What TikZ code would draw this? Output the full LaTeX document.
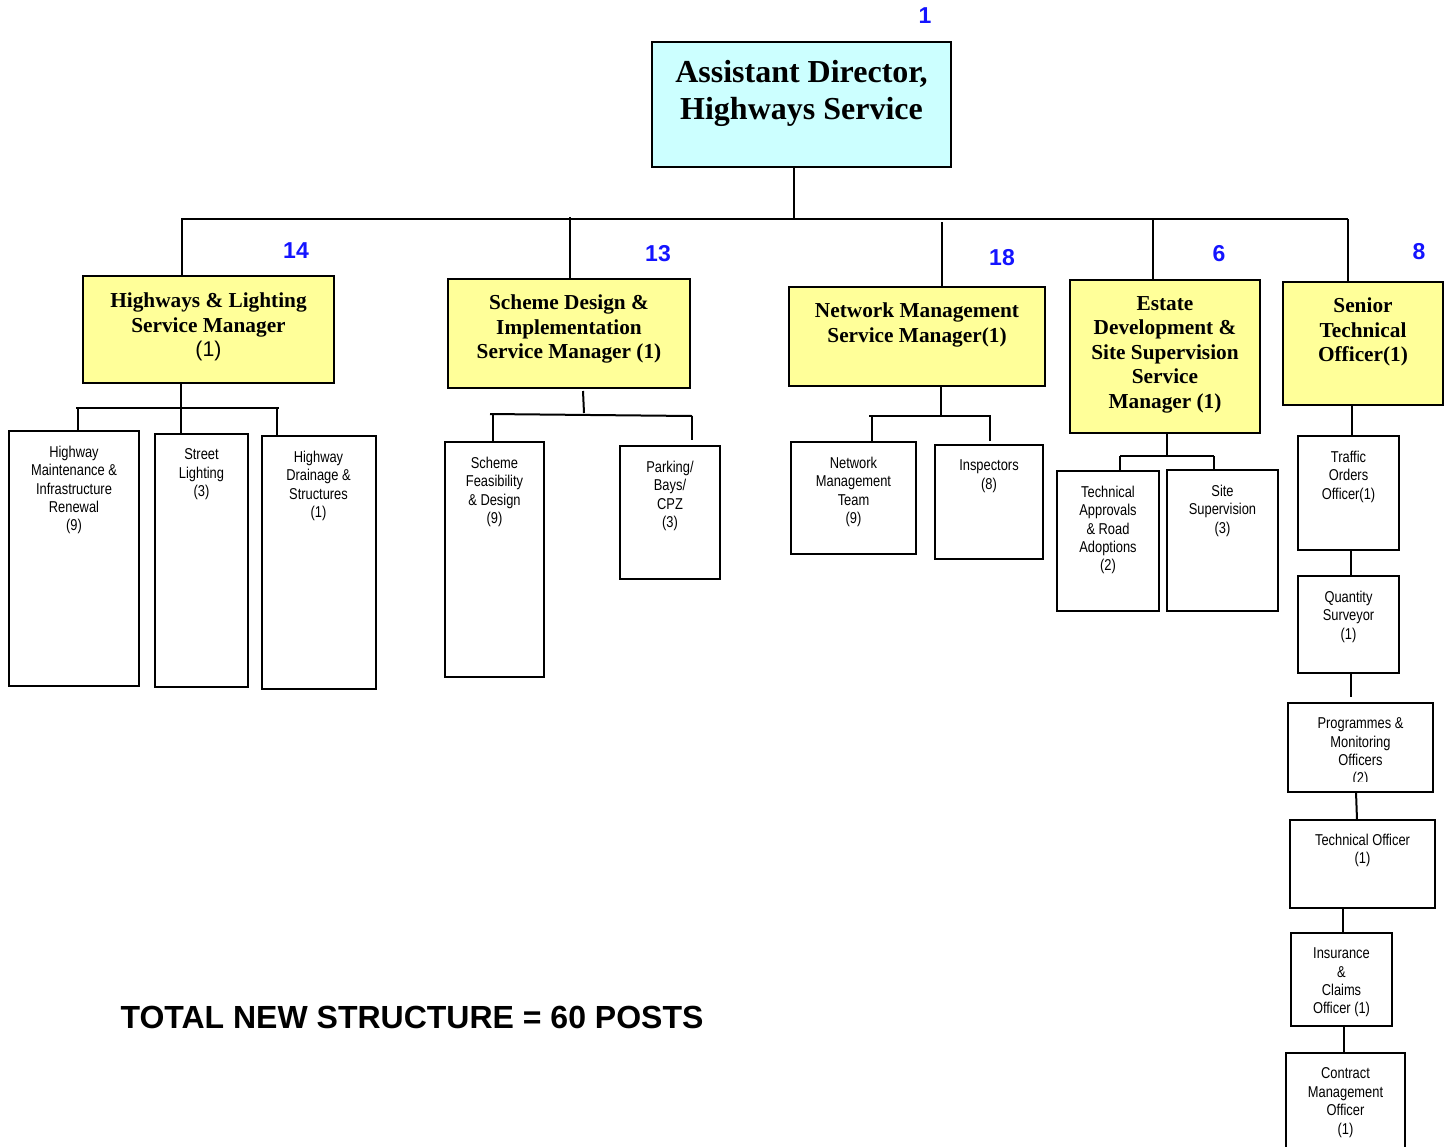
\documentclass[tikz,border=0pt]{standalone}
\usepackage{fontspec}
\setmainfont{Liberation Serif}
\newfontfamily\narrowfont[FakeStretch=0.82]{Liberation Sans}
\newfontfamily\arialfont{Liberation Sans}
\definecolor{cyanfill}{HTML}{CCFFFF}
\definecolor{yellowfill}{HTML}{FFFF99}
\definecolor{numblue}{HTML}{1414FF}
\tikzset{
  conn/.style={line width=2pt},
  boxbase/.style={draw, line width=2pt, inner sep=0pt, outer sep=0pt},
  cbox/.style={boxbase, fill=cyanfill},
  ybox/.style={boxbase, fill=yellowfill},
  wbox/.style={boxbase, fill=white},
  toptext/.style={anchor=north, inner sep=0pt, align=center, execute at begin node={\strut},
    font=\bfseries\fontsize{32}{37}\selectfont},
  sertext/.style={anchor=north, inner sep=0pt, align=center, execute at begin node={\strut},
    font=\bfseries\fontsize{21.3}{24.5}\selectfont},
  santext/.style={anchor=north, inner sep=0pt, align=center, execute at begin node={\strut},
    font=\narrowfont\fontsize{15.7}{18.4}\selectfont},
  bnum/.style={inner sep=0pt, text=numblue, font=\arialfont\bfseries\fontsize{23}{27}\selectfont},
}
\begin{document}
\begin{tikzpicture}[x=1pt,y=-1pt]
\useasboundingbox (0,0) rectangle (1450,1146);

% ---------- junction coordinates ----------
\coordinate (barL) at (181,219);
\coordinate (barR) at (1348,219);
\coordinate (adj) at (794,219);
\coordinate (d1) at (182,219);
\coordinate (d2) at (570,217);
\coordinate (d3) at (942,222);
\coordinate (d4) at (1153,219);
\coordinate (d5) at (1348,219);

% ---------- boxes ----------
\node[cbox, minimum width=299, minimum height=125] (ad) at (801.5,104.5) {};
\node[ybox, minimum width=251, minimum height=107] (hl) at (208.5,329.5) {};
\node[ybox, minimum width=242, minimum height=109] (sd) at (569,333.5) {};
\node[ybox, minimum width=256, minimum height=99] (nm) at (917,336.5) {};
\node[ybox, minimum width=190, minimum height=153] (ed) at (1165,356.5) {};
\node[ybox, minimum width=160, minimum height=123] (st) at (1363,343.5) {};

\node[wbox, minimum width=130, minimum height=255] (hm) at (74,558.5) {};
\node[wbox, minimum width=93, minimum height=253] (sl) at (201.5,560.5) {};
\node[wbox, minimum width=114, minimum height=253] (hd) at (319,562.5) {};
\node[wbox, minimum width=99, minimum height=235] (sf) at (494.5,559.5) {};
\node[wbox, minimum width=100, minimum height=133] (pb) at (670,512.5) {};
\node[wbox, minimum width=125, minimum height=112] (nmt) at (853.5,498) {};
\node[wbox, minimum width=108, minimum height=114] (ins) at (989,502) {};
\node[wbox, minimum width=102, minimum height=140] (ta) at (1108,541) {};
\node[wbox, minimum width=111, minimum height=141] (ss) at (1222.5,540.5) {};
\node[wbox, minimum width=101, minimum height=114] (tro) at (1348.5,493) {};
\node[wbox, minimum width=101, minimum height=97] (qs) at (1348.5,624.5) {};
\node[wbox, minimum width=145, minimum height=89] (pm) at (1360.5,747.5) {};
\node[wbox, minimum width=145, minimum height=88] (to) at (1362.5,864) {};
\node[wbox, minimum width=101, minimum height=93] (ic) at (1341.5,979.5) {};
\node[wbox, minimum width=119, minimum height=107] (cm) at (1345.5,1106.5) {};

% ---------- connectors ----------
\draw[conn] (barL) -- (barR);
\draw[conn] (adj |- ad.south) -- (adj);
\draw[conn] (d1) -- (d1 |- hl.north);
\draw[conn] (d2) -- (d2 |- sd.north);
\draw[conn] (d3) -- (d3 |- nm.north);
\draw[conn] (d4) -- (d4 |- ed.north);
\draw[conn] (d5) -- (d5 |- st.north);

% Highways & Lighting
\coordinate (hlv) at (181,408);
\coordinate (hlbL) at (76,408);
\coordinate (hlbR) at (279,408);
\coordinate (hmj) at (78,408);
\coordinate (hdj) at (277,408);
\draw[conn] (hlv |- hl.south) -- (hlv |- sl.north);
\draw[conn] (hlbL) -- (hlbR);
\draw[conn] (hmj) -- (hmj |- hm.north);
\draw[conn] (hdj) -- (hdj |- hd.north);

% Scheme Design
\coordinate (sdv1) at (583,391);
\coordinate (sdv2) at (584,413);
\coordinate (sdbL) at (490,414);
\coordinate (sdbR) at (692,416);
\coordinate (sfj) at (493,414);
\coordinate (pbj) at (692,416);
\draw[conn] (sdv1) -- (sdv2);
\draw[conn] (sdbL) -- (sdbR);
\draw[conn] (sfj) -- (sfj |- sf.north);
\draw[conn] (pbj) -- (692,440) coordinate (pbe);

% Network Management
\coordinate (nmv) at (941,416);
\coordinate (nmbL) at (869,416);
\coordinate (nmbR) at (991,416);
\coordinate (nmtj) at (872,416);
\coordinate (insj) at (990,416);
\draw[conn] (nmv |- nm.south) -- (nmv);
\draw[conn] (nmbL) -- (nmbR);
\draw[conn] (nmtj) -- (nmtj |- nmt.north);
\draw[conn] (insj) -- (990,441) coordinate (inse);

% Estate Development
\coordinate (edv) at (1167,456);
\coordinate (edbL) at (1120,456);
\coordinate (edbR) at (1214,456);
\draw[conn] (edv |- ed.south) -- (edv);
\draw[conn] (edbL) -- (edbR);
\draw[conn] (edbL) -- (edbL |- ta.north);
\draw[conn] (edbR) -- (edbR |- ss.north);

% Senior Technical Officer chain
\coordinate (c1) at (1352,0);
\coordinate (c2) at (1351,0);
\coordinate (c3) at (1351,0);
\coordinate (c4a) at (1356,0);
\coordinate (c4b) at (1357,0);
\coordinate (c5) at (1343,0);
\coordinate (c6) at (1344,0);
\draw[conn] (c1 |- st.south) -- (c1 |- tro.north);
\draw[conn] (c2 |- tro.south) -- (c2 |- qs.north);
\draw[conn] (c3 |- qs.south) -- (1351,697) coordinate (c3e);
\draw[conn] (c4a |- pm.south) -- (c4b |- to.north);
\draw[conn] (c5 |- to.south) -- (c5 |- ic.north);
\draw[conn] (c6 |- ic.south) -- (c6 |- cm.north);

% redraw box borders over connector ends
\foreach \n in {hm,sl,hd,sf,pb,nmt,ins,ta,ss,tro,qs,pm,to,ic,cm}{
  \draw[line width=2pt] (\n.north west) rectangle (\n.south east);
}

% ---------- texts ----------
\node[toptext] (adt) at (801.5,60) {Assistant Director,\\Highways Service};

\node[sertext] (hlt) at (208.5,293) {Highways \& Lighting\\Service Manager\\{\arialfont\mdseries (1)}};
\node[sertext] (sdt) at (569,295) {Scheme Design \&\\Implementation\\Service Manager (1)};
\node[sertext] (nmtx) at (917,303) {Network Management\\Service Manager(1)};
\node[sertext] (edt) at (1165,296) {Estate\\Development \&\\Site Supervision\\Service\\Manager (1)};
\node[sertext] (stt) at (1363,298) {Senior\\Technical\\Officer(1)};

\node[santext] (hmt) at (74,445.7) {Highway\\Maintenance \&\\Infrastructure\\Renewal\\(9)};
\node[santext] (slt) at (201.5,448.7) {Street\\Lighting\\(3)};
\node[santext] (hdt) at (318.5,450.7) {Highway\\Drainage \&\\Structures\\(1)};
\node[santext] (sft) at (494.5,456.7) {Scheme\\Feasibility\\\& Design\\(9)};
\node[santext] (pbt) at (670,460.7) {Parking/\\Bays/\\CPZ\\(3)};
\node[santext] (nmtt) at (853.5,456.7) {Network\\Management\\Team\\(9)};
\node[santext] (inst) at (989,459.7) {Inspectors\\(8)};
\node[santext] (tat) at (1108,485.7) {Technical\\Approvals\\\& Road\\Adoptions\\(2)};
\node[santext] (sst) at (1222.5,484.7) {Site\\Supervision\\(3)};
\node[santext] (trot) at (1348.5,450.7) {Traffic\\Orders\\Officer(1)};
\node[santext] (qst) at (1348.5,590.7) {Quantity\\Surveyor\\(1)};
\begin{scope}
  \clip (1289,704) rectangle (1432,781);
  \node[santext] (pmt) at (1360.5,717.7) {Programmes \&\\Monitoring\\Officers\\(2)};
\end{scope}
\node[santext] (tot) at (1362.5,833.7) {Technical Officer\\(1)};
\node[santext] (ict) at (1341.5,947.7) {Insurance\\\&\\Claims\\Officer (1)};
\node[santext] (cmt) at (1345.5,1067.7) {Contract\\Management\\Officer\\(1)};

% blue counts
\node[bnum] (n1) at (925,16) {1};
\node[bnum] (n14) at (296,251) {14};
\node[bnum] (n13) at (658,254) {13};
\node[bnum] (n18) at (1002,258) {18};
\node[bnum] (n6) at (1219,254) {6};
\node[bnum] (n8) at (1419,252) {8};

\node[inner sep=0pt, font=\arialfont\bfseries\fontsize{32}{38}\selectfont] (total) at (412,1017) {TOTAL NEW STRUCTURE = 60 POSTS};
\end{tikzpicture}
\end{document}
